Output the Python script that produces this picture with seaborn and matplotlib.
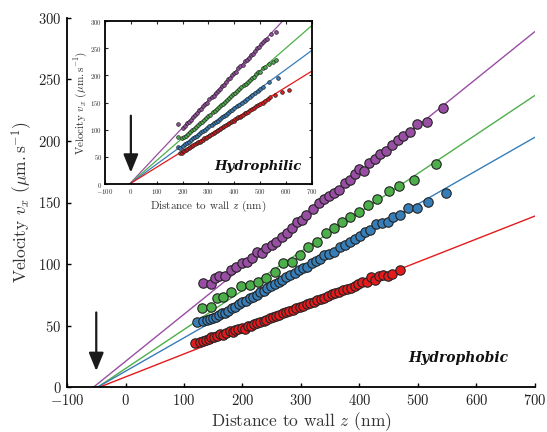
import numpy as np
import pandas as pd
import matplotlib
matplotlib.use("Agg")
import matplotlib.pyplot as plt
import seaborn as sns

# ---------------- data: main panel (hydrophobic) ----------------
red_x = [119, 127, 133, 138, 142, 147, 152, 157, 162, 167, 172, 178, 183, 188, 193, 199, 204, 209,
         214, 219, 225, 230, 236, 241, 247, 252, 258, 263, 269, 275, 280, 286, 292, 298, 304, 310,
         316, 322, 328, 334, 340, 346, 353, 359, 365, 372, 378, 385, 392, 398, 405, 412, 419, 426,
         433, 440, 448, 456, 470]
red_y = [36, 37, 37.5, 38.5, 39, 40.5, 40.5, 42, 43, 42.5, 44, 45.5, 45, 46.5, 47.5, 48, 47, 49.5,
         50, 51, 52, 53, 53.5, 55, 56, 57, 57.5, 59, 60, 61, 62, 62.5, 64, 65.5, 66, 67.5,
         68.5, 69, 71, 72, 72.5, 74, 75.5, 76.5, 77, 79, 80, 80.5, 82, 83.5, 85.5, 85.5, 89.5, 87,
         90.5, 91, 90.5, 92, 95]

blue_x = [123, 133, 140, 145, 150, 155, 160, 165, 170, 176, 182, 188, 194, 200, 206, 212, 218, 224,
          230, 236, 242, 249, 255, 262, 268, 275, 282, 289, 296, 303, 310, 318, 325, 333, 340, 348,
          356, 366, 375, 384, 392, 401, 409, 418, 428, 438, 448, 458, 470, 483, 498, 517, 548]
blue_y = [52.8, 53.5, 54.5, 55.5, 56.5, 57, 58.5, 60, 60.5, 62, 64, 65, 67.5, 69, 70, 72.5, 73.5, 75,
          77, 78.5, 80.5, 82, 84, 85.5, 87, 89.5, 91, 92.5, 95, 96.5, 98, 100.5, 102.5, 104, 107, 108.5,
          110, 114, 115.5, 118, 120, 122.8, 126.3, 128, 132.5, 133.6, 134.4, 138.5, 139.9, 145.3, 145.3,
          150.6, 157.5]

green_x = [131, 146, 156, 167, 181, 197, 213, 227, 240, 255, 270, 284, 298, 312, 327, 343, 356, 370,
           384, 399, 415, 430, 450, 468, 494, 531]
green_y = [64, 65.4, 72.7, 73.5, 77.6, 82.2, 83, 85.7, 88.5, 93.8, 101, 102, 107.4, 114, 118, 125.5,
           129, 134.4, 138.5, 142.5, 148, 152.6, 159.6, 163.4, 168.3, 181]

purple_x = [133, 146, 153, 160, 170, 180, 189, 199, 207, 216, 224, 233, 241, 250, 258, 267, 276, 284,
            293, 301, 309, 321, 330, 339, 348, 356, 365, 375, 384, 392, 400, 408, 417, 426, 435, 445,
            455, 465, 475, 486, 499, 515, 543]
purple_y = [84.4, 83.6, 88.5, 90.3, 90.3, 95.2, 97.4, 100.6, 102, 104.7, 110, 109.3, 112.8, 115.5,
            118.2, 121.8, 125, 129, 134.4, 135.8, 139.9, 145, 149.5, 152.5, 155.3, 157.5, 160.5, 165.6,
            168.3, 173.5, 177, 175.8, 181.8, 185.3, 189.4, 191.8, 196.7, 200.7, 204, 207, 213.5, 215,
            226.5]

# linear fits (slope, zero crossing) for the main panel: purple, green, blue, red
main_slopes = [0.3825, 0.3168, 0.2714, 0.1866]
main_x0 = [-55, -48, -48, -45]

# ---------------- data: inset (hydrophilic) ----------------
ip_x = [183, 200, 208, 216, 224, 232, 240, 248, 256, 264, 272, 280, 288, 296, 304, 312, 320, 328, 336,
        344, 352, 360, 368, 376, 384, 392, 400, 408, 416, 424, 432, 440, 448, 456, 464, 472, 480, 488,
        496, 504, 512, 520, 528, 544, 563]
ip_y = [110, 103, 107, 113, 115, 118, 124, 127, 131, 136, 138, 144, 147, 150, 156, 160, 163, 168, 172,
        175, 181, 183, 188, 193, 195, 201, 205, 207, 213, 217, 220, 226, 228, 233, 238, 240, 245, 250,
        252, 258, 262, 265, 268, 277, 280]

ig_x = [181, 196, 204, 212, 220, 228, 236, 244, 252, 260, 268, 276, 284, 292, 300, 308, 316, 324, 332,
        340, 348, 356, 364, 372, 380, 388, 396, 404, 412, 420, 428, 436, 444, 452, 460, 468, 476, 484,
        492, 500, 510, 520, 535, 548, 560]
ig_y = [87, 84, 86, 89, 92, 95, 99, 101, 105, 108, 112, 115, 118, 122, 125, 128, 132, 135, 139, 142,
        145, 148, 152, 155, 158, 162, 165, 168, 172, 175, 178, 182, 185, 188, 192, 195, 198, 202, 206,
        207, 213, 216, 222, 224, 228]

ib_x = [183, 192, 200, 208, 216, 224, 232, 240, 248, 256, 264, 272, 280, 288, 296, 304, 312, 320, 328,
        336, 344, 352, 360, 368, 376, 384, 392, 400, 410, 420, 430, 440, 450, 460, 470, 480, 490, 500,
        512, 535, 570]
ib_y = [68, 67, 70, 73, 75, 78, 81, 84, 87, 89, 92, 95, 98, 100, 103, 106, 109, 112, 114, 117, 120,
        123, 126, 128, 131, 134, 137, 140, 143, 146, 150, 153, 157, 161, 164, 167, 171, 175, 179, 188,
        196]

ir_x = [190, 196, 200, 206, 212, 218, 224, 230, 236, 242, 248, 254, 260, 266, 272, 278, 284, 290, 296,
        302, 308, 314, 320, 326, 332, 338, 344, 350, 356, 362, 368, 374, 380, 386, 392, 398, 404, 410,
        416, 422, 428, 434, 440, 446, 452, 460, 468, 476, 484, 492, 500, 510, 520, 530, 540, 557, 583,
        612]
ir_y = [57, 58, 60, 61, 63, 64, 66, 68, 70, 71, 73, 75, 77, 78, 80, 82, 84, 85, 87, 89, 91, 93, 94, 96,
        98, 100, 101, 103, 105, 107, 108, 110, 112, 114, 116, 117, 119, 121, 123, 124, 126, 128, 130,
        131, 133, 136, 138, 140, 143, 145, 147, 150, 153, 157, 160, 164, 169, 173]

inset_slopes = [0.507, 0.414, 0.349, 0.295]
inset_x0 = [-5, -5, -5, -5]

colors = ["#984ea3", "#4daf4a", "#377eb8", "#e41a1c"]
x_ticks = [-100, 0, 100, 200, 300, 400, 500, 600, 700]
y_ticks = [0, 50, 100, 150, 200, 250, 300]

# ---------------- style ----------------
sns.set_style("ticks")
plt.rcParams["font.family"] = ["cmr10", "DejaVu Serif"]
plt.rcParams["mathtext.fontset"] = "cm"
plt.rcParams["axes.formatter.use_mathtext"] = True
plt.rcParams["axes.unicode_minus"] = True
plt.rcParams["xtick.direction"] = "in"
plt.rcParams["ytick.direction"] = "in"

fig = plt.figure(figsize=(5.47, 4.32), dpi=100)
ax = fig.add_axes([0.1225, 0.1035, 0.8555, 0.8555])

main_series = [(purple_x, purple_y), (green_x, green_y), (blue_x, blue_y), (red_x, red_y)]
for (xs, ys), c, m, x0 in zip(main_series, colors, main_slopes, main_x0):
    lx = np.array([x0, 700.0])
    sns.lineplot(x=lx, y=m * (lx - x0), color=c, lw=1.0, ax=ax, zorder=2)
    sns.scatterplot(x=xs, y=ys, color=c, edgecolor="#222222", linewidth=0.8, s=46, ax=ax, zorder=3)

ax.set_xlim(-100, 700)
ax.set_ylim(0, 300)
ax.set_xticks(x_ticks)
ax.set_yticks(y_ticks)
sns.despine(ax=ax)
for s in ["left", "bottom"]:
    ax.spines[s].set_linewidth(1.3)
    ax.spines[s].set_color("black")
ax.tick_params(labelsize=10.5, length=3, width=1, colors="black", labelcolor="#222222", pad=4)
ax.set_xlabel(r"Distance to wall $z$ $(\mathrm{nm})$", fontsize=12.5, color="#333333", labelpad=2)
ax.set_ylabel(r"Velocity $v_x$ $(\mu\mathrm{m.s}^{-1})$", fontsize=12.5, color="#333333", labelpad=3)
ax.annotate("", xy=(-50, 11), xytext=(-50, 63),
            arrowprops=dict(arrowstyle="-|>,head_width=0.45,head_length=1.1", color="#1a1a1a", lw=1.6))
ax.text(655, 24, "Hydrophobic", ha="right", va="center", fontsize=10,
        family="DejaVu Serif", weight="bold", style="italic", color="#111111")

# ---------------- inset ----------------
ins = fig.add_axes([0.192, 0.574, 0.378, 0.377])
ins.set_facecolor("white")
inset_series = [(ip_x, ip_y), (ig_x, ig_y), (ib_x, ib_y), (ir_x, ir_y)]
for (xs, ys), c, m, x0 in zip(inset_series, colors, inset_slopes, inset_x0):
    lx = np.array([x0, 700.0])
    sns.lineplot(x=lx, y=m * (lx - x0), color=c, lw=0.9, ax=ins, zorder=2)
    sns.scatterplot(x=xs, y=ys, color=c, edgecolor="#222222", linewidth=0.5, s=7, ax=ins, zorder=3)
ins.set_xlim(-100, 700)
ins.set_ylim(0, 300)
ins.set_xticks(x_ticks)
ins.set_yticks(y_ticks)
for s in ins.spines.values():
    s.set_linewidth(1.3)
    s.set_color("black")
ins.tick_params(labelsize=5, length=2, width=0.8, top=True, right=True, pad=2,
                labelcolor="#333333")
ins.set_xlabel(r"Distance to wall $z$ $(\mathrm{nm})$", fontsize=8, color="#333333", labelpad=2)
ins.set_ylabel(r"Velocity $v_x$ $(\mu\mathrm{m.s}^{-1})$", fontsize=8, color="#333333", labelpad=1)
ins.annotate("", xy=(0, 16), xytext=(0, 131),
             arrowprops=dict(arrowstyle="-|>,head_width=0.45,head_length=1.1", color="#1a1a1a", lw=1.6))
ins.text(662, 32, "Hydrophilic", ha="right", va="center", fontsize=9.5,
         family="DejaVu Serif", weight="bold", style="italic", color="#111111")

fig.savefig("out.png", dpi=100)
